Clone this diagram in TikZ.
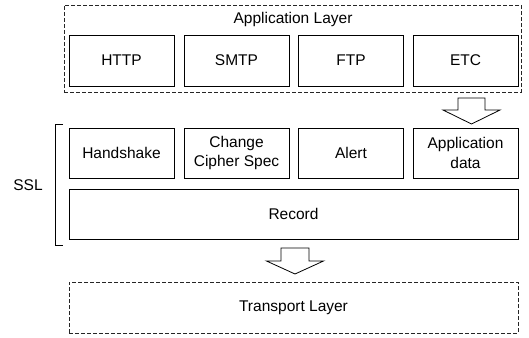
\documentclass[tikz,border=0pt]{standalone}
\usepackage{fontspec}
\setmainfont{Liberation Sans}
\begin{document}
\begin{tikzpicture}[x=1pt,y=-1pt,
  lbl/.style={font=\fontsize{15.5}{19.5}\selectfont, inner sep=0pt, align=center},
  box/.style={lbl, draw, line width=0.9pt, minimum width=105pt, minimum height=51pt},
  wide/.style={lbl, draw, line width=0.9pt, minimum width=449pt, minimum height=50pt},
  dbox/.style={draw=black!85, line width=0.8pt, dash pattern=on 4pt off 2pt, inner sep=0pt},
  fatarrow/.style={draw, line width=0.8pt, fill=white, line join=miter}]
\useasboundingbox (0,0) rectangle (529,337);
% Application layer
\node[dbox, minimum width=457pt, minimum height=87pt] (app) at (292.5,48.5) {};
\node[lbl] (applbl) at (293,19) {Application Layer};
\node[box] (http) at (121.5,60.5) {HTTP};
\node[box] (smtp) at (236.5,60.5) {SMTP};
\node[box] (ftp)  at (351,60.5) {FTP};
\node[box] (etc)  at (465.5,60.5) {ETC};
% SSL
\node[box, minimum height=50pt] (hs) at (121.5,153) {Handshake};
\node[box, minimum height=50pt] (ccs) at (236.5,153) {Change\\Cipher Spec};
\node[box, minimum height=50pt] (alert) at (351,153) {Alert};
\node[box, minimum height=50pt] (ad) at (465.5,153) {Application\\data};
\node[wide] (rec) at (293.5,214) {Record};
\node[lbl] (ssl) at (28,185) {SSL};
\coordinate (bt) at (55,124);
\coordinate (bb) at (55,245);
\draw[line width=0.9pt] ([xshift=8pt]bt) -- (bt) -- (bb) -- ([xshift=8pt]bb);
% Transport
\node[dbox, lbl, minimum width=449pt, minimum height=51pt] (tr) at (293.5,307.5) {Transport Layer};
% arrows
\coordinate (a1) at (471.5,98);
\draw[fatarrow] (a1) ++(-13.5,0) -- ++(27,0) -- ++(0,12) -- ++(15,0) -- ++(-28.5,14) -- ++(-28.5,-14) -- ++(15,0) -- cycle;
\coordinate (a2) at (295,248);
\draw[fatarrow] (a2) ++(-14,0) -- ++(28,0) -- ++(0,13) -- ++(14.5,0) -- ++(-28.5,13) -- ++(-28.5,-13) -- ++(14.5,0) -- cycle;
\end{tikzpicture}
\end{document}
